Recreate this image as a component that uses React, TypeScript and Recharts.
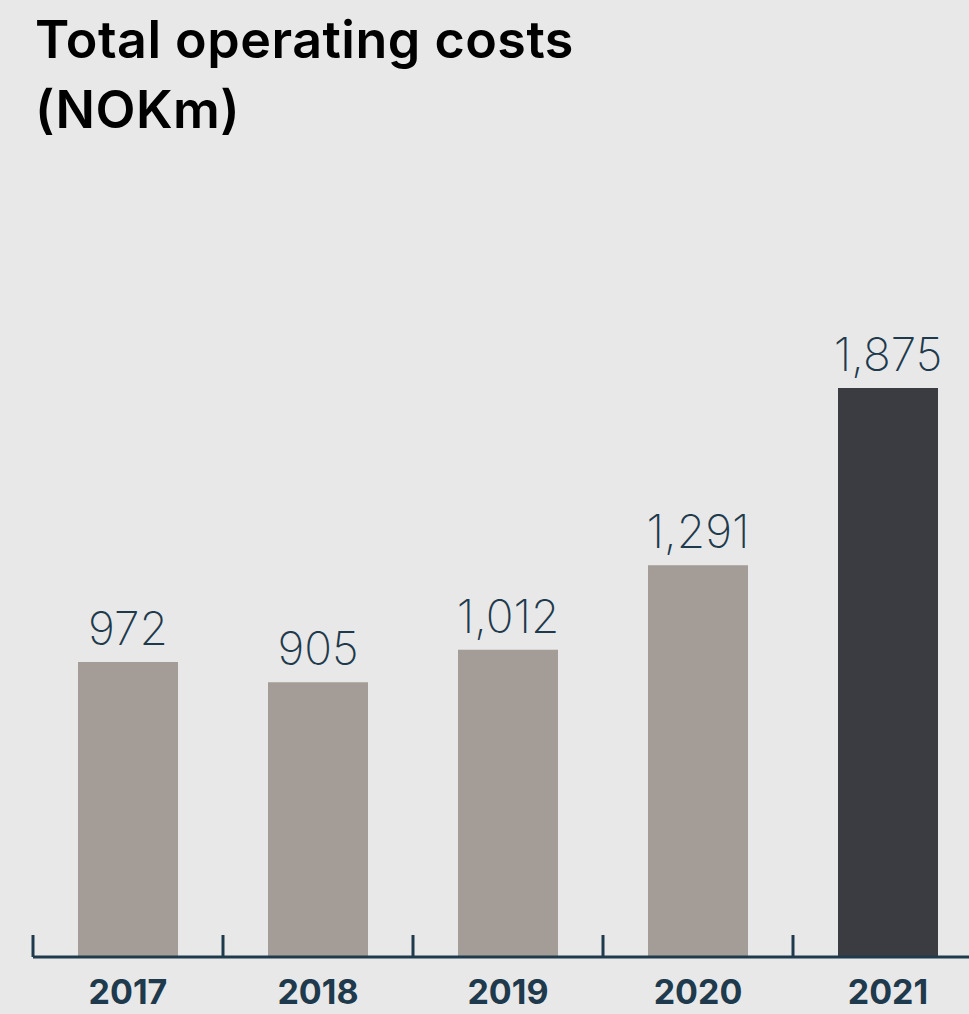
import { BarChart, Bar, XAxis, YAxis, Cell, LabelList } from "recharts";

const years = ["2017", "2018", "2019", "2020", "2021"];
const costs = [972, 905, 1012, 1291, 1875];
const barColors = ["#a49c96", "#a49c96", "#a49c96", "#a49c96", "#3a3c42"];

const NAVY = "#1e3a4c";
const CHART_W = 1000;
const MARGIN_L = 33;
const MARGIN_R = 17;
const BAND = (CHART_W - MARGIN_L - MARGIN_R) / years.length;

const data = years.map((y, i) => ({ year: y, value: costs[i], color: barColors[i] }));

const fmt = (v: any) => Number(v).toLocaleString("en-US");

function YearTick({ x, y, payload }: any) {
  const left = x - BAND / 2;
  return (
    <g>
      <line x1={left} x2={left} y1={y - 22} y2={y} stroke={NAVY} strokeWidth={3} />
      <text x={x} y={y + 47} textAnchor="middle" fill={NAVY} fontSize={34} fontWeight={700} fontFamily="Inter, sans-serif">
        {payload.value}
      </text>
    </g>
  );
}

export default function App() {
  return (
    <div style={{ position: "fixed", left: 0, top: 0, width: 969, height: 1014, overflow: "hidden", background: "#e8e8e8" }}>
      <div
        style={{
          position: "absolute",
          left: 35,
          top: 5,
          fontFamily: "Inter, sans-serif",
          fontWeight: 600,
          fontSize: 52,
          letterSpacing: 0.5,
          lineHeight: "70px",
          color: "#000",
        }}
      >
        Total operating costs
        <br />
        (NOKm)
      </div>
      <BarChart
        width={CHART_W}
        height={1014}
        data={data}
        margin={{ top: 350, right: MARGIN_R, left: MARGIN_L, bottom: 0 }}
        barSize={100}
      >
        <YAxis hide domain={[0, 2000]} />
        <XAxis
          dataKey="year"
          height={57}
          axisLine={{ stroke: NAVY, strokeWidth: 3 }}
          tickLine={false}
          tickSize={0}
          tickMargin={0}
          interval={0}
          tick={<YearTick />}
        />
        <Bar dataKey="value" isAnimationActive={false}>
          {data.map((d, i) => (
            <Cell key={i} fill={d.color} />
          ))}
          <LabelList
            dataKey="value"
            position="top"
            offset={17}
            formatter={fmt}
            fill={NAVY}
            fontSize={46}
            fontWeight={200}
            fontFamily="Inter, sans-serif"
          />
        </Bar>
      </BarChart>
    </div>
  );
}
